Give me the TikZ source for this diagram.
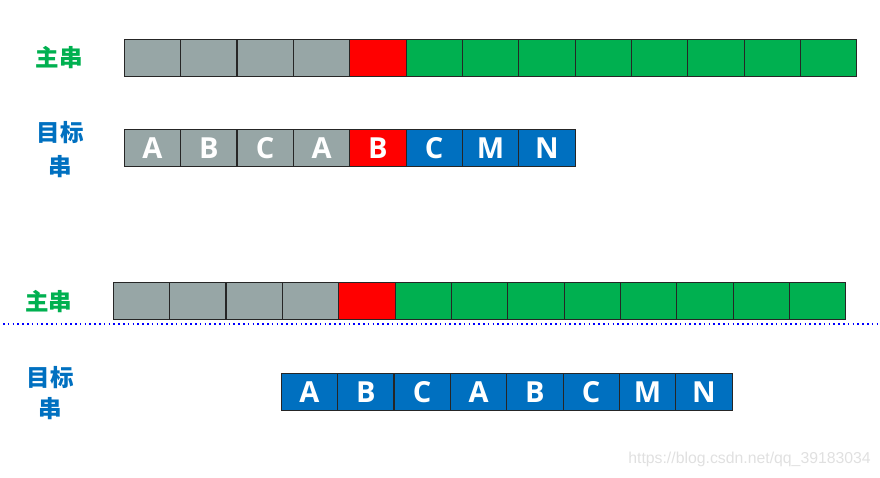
\documentclass[tikz,border=0pt]{standalone}
\usepackage{fontspec}
\newfontfamily\cjk{Noto Sans CJK SC}
\newfontfamily\latf{Open Sans}
\setsansfont{Liberation Sans}
\definecolor{cg}{HTML}{97A6A6}
\definecolor{cr}{HTML}{FF0000}
\definecolor{cG}{HTML}{00B050}
\definecolor{cb}{HTML}{0070C0}
\begin{document}
\begin{tikzpicture}[x=1pt,y=-1pt,
  cell/.style={draw=black!85, line width=1.1pt, minimum width=56.35pt, minimum height=37pt,
    inner sep=0pt, outer sep=0pt, anchor=north west, text=white, font=\latf\bfseries\fontsize{29}{29}\selectfont},
  lab/.style={font=\cjk\bfseries\fontsize{23.5}{34}\selectfont, align=center, inner sep=0pt}]
\useasboundingbox (0,0) rectangle (880,477);
% row 1
\foreach \col [count=\i from 0] in {cg,cg,cg,cg,cr,cG,cG,cG,cG,cG,cG,cG,cG}
  \node[cell, fill=\col] (a\i) at (124.3+\i*56.35, 39.5) {};
% row 2
\foreach \col/\t [count=\i from 0] in {cg/A,cg/B,cg/C,cg/A,cr/B,cb/C,cb/M,cb/N}
  \node[cell, fill=\col] (b\i) at (124.3+\i*56.35, 129.3) {\t};
% row 3
\foreach \col [count=\i from 0] in {cg,cg,cg,cg,cr,cG,cG,cG,cG,cG,cG,cG,cG}
  \node[cell, fill=\col] (c\i) at (113.3+\i*56.35, 282.5) {};
% row 4
\foreach \t [count=\i from 0] in {A,B,C,A,B,C,M,N}
  \node[cell, fill=cb] (d\i) at (281.3+\i*56.35, 373.3) {\t};
% separator
\coordinate (s1) at (3,324);
\coordinate (s2) at (880,324);
\draw[blue, line width=1.4pt, dash pattern=on 1.6pt off 3.2pt] (s1) -- (s2);
% labels
\node[lab, text=cG] (l1) at (59,58) {主串};
\node[lab, text=cb] (l2) at (60,150) {目标\\串};
\node[lab, text=cG] (l3) at (48.5,302) {主串};
\node[lab, text=cb, font=\cjk\bfseries\fontsize{23.5}{31}\selectfont] (l4) at (50,393) {目标\\串};
% watermark
\node[text=black!12, font=\sffamily\fontsize{15.8}{15.8}\selectfont, anchor=east, inner sep=0pt] (wm) at (871,459) {https://blog.csdn.net/qq\_39183034};
\end{tikzpicture}
\end{document}
